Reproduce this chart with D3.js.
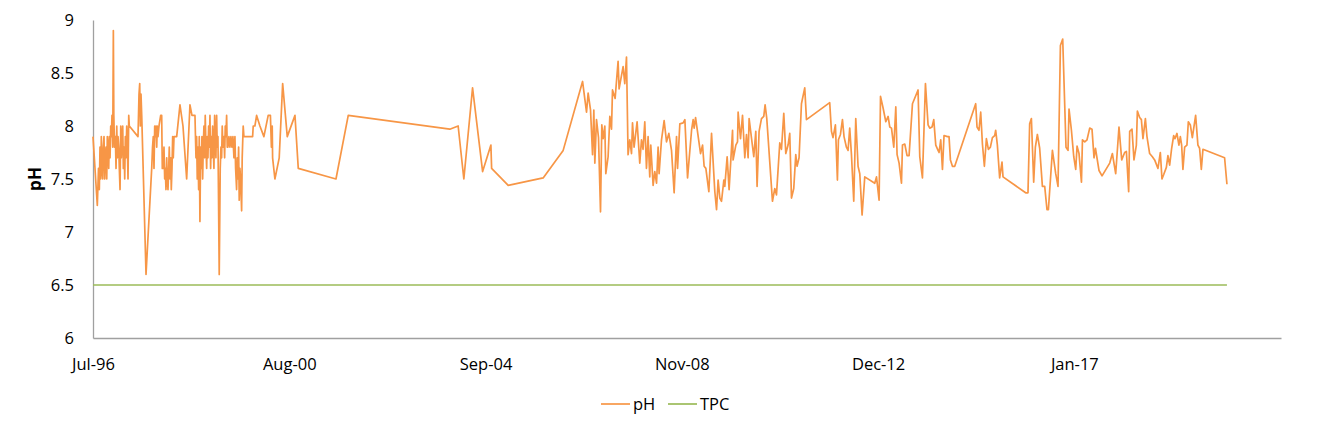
<!DOCTYPE html>
<html>
<head>
<meta charset="utf-8">
<script src="https://cdn.jsdelivr.net/npm/d3@7"></script>
<style>
	body { margin: 0; background: #fff; }
	text { font-family: "Open Sans", "Liberation Sans", sans-serif; fill: #000; }
	.axis path { stroke: #a0a0a0; stroke-width: 1.3px; }
	.axis text { font-size: 16.5px; }
</style>
</head>
<body>
<div id="chart"></div>
<script>
// sample dates as decimal years, pH
var ph_years = [
	1996.520, 1996.610, 1996.635, 1996.652, 1996.666, 1996.681, 1996.694, 1996.708, 1996.723, 1996.735,
	1996.750, 1996.765, 1996.777, 1996.792, 1996.807, 1996.819, 1996.834, 1996.848, 1996.861, 1996.876,
	1996.890, 1996.903, 1996.917, 1996.932, 1996.945, 1996.955, 1996.970, 1996.987, 1997.001, 1997.016,
	1997.028, 1997.043, 1997.058, 1997.070, 1997.085, 1997.100, 1997.112, 1997.127, 1997.141, 1997.154,
	1997.169, 1997.183, 1997.196, 1997.210, 1997.225, 1997.238, 1997.252, 1997.267, 1997.279, 1997.461,
	1997.482, 1997.497, 1997.510, 1997.524, 1997.539, 1997.629, 1997.748, 1997.765, 1997.781, 1997.796,
	1997.811, 1997.823, 1997.838, 1997.853, 1997.865, 1997.880, 1997.901, 1997.936, 1997.957, 1997.970,
	1997.991, 1998.005, 1998.020, 1998.033, 1998.047, 1998.062, 1998.074, 1998.089, 1998.104, 1998.116,
	1998.131, 1998.146, 1998.158, 1998.173, 1998.187, 1998.200, 1998.215, 1998.235, 1998.271, 1998.340,
	1998.403, 1998.480, 1998.549, 1998.591, 1998.654, 1998.675, 1998.689, 1998.702, 1998.717, 1998.731,
	1998.744, 1998.758, 1998.773, 1998.786, 1998.800, 1998.815, 1998.827, 1998.842, 1998.857, 1998.869,
	1998.884, 1998.899, 1998.911, 1998.926, 1998.940, 1998.953, 1998.968, 1998.982, 1998.995, 1999.009,
	1999.024, 1999.037, 1999.051, 1999.066, 1999.079, 1999.093, 1999.108, 1999.120, 1999.135, 1999.162,
	1999.183, 1999.198, 1999.212, 1999.225, 1999.240, 1999.261, 1999.275, 1999.288, 1999.302, 1999.317,
	1999.330, 1999.344, 1999.365, 1999.386, 1999.407, 1999.428, 1999.449, 1999.470, 1999.491, 1999.505,
	1999.526, 1999.539, 1999.553, 1999.568, 1999.581, 1999.595, 1999.610, 1999.631, 1999.643, 1999.664,
	1999.679, 1999.700, 1999.763, 1999.825, 1999.861, 1999.874, 1999.909, 1999.945, 2000.014, 2000.097,
	2000.187, 2000.233, 2000.254, 2000.271, 2000.279, 2000.327, 2000.417, 2000.489, 2000.585, 2000.746,
	2000.815, 2001.604, 2001.861, 2003.988, 2004.162, 2004.281, 2004.463, 2004.673, 2004.846, 2004.861,
	2005.208, 2005.940, 2006.359, 2006.765, 2006.848, 2006.882, 2006.932, 2006.974, 2007.001, 2007.022,
	2007.057, 2007.099, 2007.141, 2007.168, 2007.196, 2007.231, 2007.252, 2007.300, 2007.336, 2007.371,
	2007.392, 2007.447, 2007.509, 2007.530, 2007.614, 2007.649, 2007.685, 2007.718, 2007.754, 2007.790,
	2007.811, 2007.844, 2007.907, 2007.963, 2007.999, 2008.032, 2008.068, 2008.103, 2008.137, 2008.172,
	2008.193, 2008.242, 2008.277, 2008.313, 2008.346, 2008.367, 2008.417, 2008.472, 2008.522, 2008.570,
	2008.626, 2008.681, 2008.731, 2008.752, 2008.800, 2008.869, 2008.905, 2008.961, 2009.045, 2009.078,
	2009.099, 2009.129, 2009.233, 2009.275, 2009.308, 2009.344, 2009.407, 2009.463, 2009.532, 2009.568,
	2009.601, 2009.637, 2009.672, 2009.721, 2009.741, 2009.790, 2009.831, 2009.903, 2009.915, 2009.972,
	2010.007, 2010.020, 2010.070, 2010.112, 2010.160, 2010.195, 2010.229, 2010.250, 2010.348, 2010.390,
	2010.417, 2010.459, 2010.509, 2010.557, 2010.585, 2010.620, 2010.739, 2010.787, 2010.823, 2010.892,
	2010.928, 2010.976, 2011.018, 2011.066, 2011.101, 2011.137, 2011.185, 2011.227, 2011.254, 2011.296,
	2011.346, 2011.415, 2011.451, 2011.938, 2011.974, 2012.007, 2012.057, 2012.099, 2012.120, 2012.162,
	2012.204, 2012.237, 2012.287, 2012.321, 2012.356, 2012.392, 2012.440, 2012.482, 2012.530, 2012.566,
	2012.614, 2012.670, 2012.879, 2012.915, 2012.969, 2012.999, 2013.053, 2013.110, 2013.158, 2013.193,
	2013.229, 2013.277, 2013.319, 2013.346, 2013.388, 2013.438, 2013.459, 2013.507, 2013.555, 2013.597,
	2013.668, 2013.785, 2013.821, 2013.877, 2013.940, 2013.995, 2014.030, 2014.078, 2014.114, 2014.156,
	2014.204, 2014.225, 2014.260, 2014.296, 2014.329, 2014.400, 2014.434, 2014.463, 2014.505, 2014.553,
	2014.992, 2015.020, 2015.061, 2015.097, 2015.133, 2015.174, 2015.216, 2015.258, 2015.300, 2015.342,
	2015.390, 2015.411, 2015.446, 2015.494, 2015.543, 2015.564, 2016.038, 2016.087, 2016.122, 2016.158,
	2016.206, 2016.241, 2016.283, 2016.331, 2016.388, 2016.436, 2016.484, 2016.513, 2016.597, 2016.666,
	2016.714, 2016.764, 2016.812, 2016.881, 2016.923, 2016.944, 2016.994, 2017.043, 2017.084, 2017.112,
	2017.153, 2017.204, 2017.225, 2017.273, 2017.321, 2017.377, 2017.425, 2017.467, 2017.497, 2017.572,
	2017.635, 2017.796, 2017.852, 2017.921, 2017.990, 2018.047, 2018.109, 2018.145, 2018.193, 2018.214,
	2018.262, 2018.304, 2018.354, 2018.375, 2018.423, 2018.459, 2018.492, 2018.543, 2018.576, 2018.632,
	2018.689, 2018.737, 2018.806, 2018.856, 2018.890, 2018.925, 2018.982, 2019.015, 2019.051, 2019.093,
	2019.135, 2019.162, 2019.204, 2019.245, 2019.275, 2019.302, 2019.329, 2019.365, 2019.413, 2019.442,
	2019.484, 2019.526, 2019.595, 2019.643, 2019.678, 2019.714, 2019.748, 2020.201, 2020.250
];

var ph_values = [
	7.9, 7.25, 7.6, 7.4, 7.8, 7.5, 7.9, 7.6, 7.5, 7.8,
	7.9, 7.5, 7.7, 7.8, 7.5, 7.9, 7.8, 7.6, 7.9, 7.7,
	8.0, 7.9, 8.1, 7.8, 8.9, 8.1, 7.8, 7.9, 7.6, 8.0,
	7.7, 7.9, 7.8, 7.6, 7.4, 8.0, 7.7, 7.9, 8.0, 7.6,
	7.8, 7.5, 7.9, 7.7, 8.0, 7.8, 7.5, 8.1, 8.0, 7.9,
	8.3, 8.4, 8.0, 8.3, 8.1, 6.6, 7.6, 7.8, 7.9, 7.6,
	8.0, 7.9, 8.0, 7.8, 8.0, 7.9, 8.0, 8.1, 8.1, 7.6,
	7.6, 7.8, 7.5, 7.6, 7.4, 7.7, 7.5, 7.4, 7.6, 7.8,
	7.5, 7.7, 7.4, 7.6, 7.9, 7.7, 7.9, 7.9, 7.9, 8.2,
	8.0, 7.5, 8.2, 8.1, 8.1, 7.7, 7.9, 7.5, 7.8, 7.4,
	7.9, 7.1, 7.8, 7.6, 7.9, 7.5, 7.8, 8.0, 7.7, 8.1,
	7.8, 7.6, 7.9, 7.7, 8.0, 7.8, 8.1, 7.6, 7.9, 7.7,
	8.0, 7.8, 7.6, 8.1, 7.9, 7.7, 8.1, 7.8, 7.9, 6.6,
	7.6, 7.8, 7.7, 8.0, 7.8, 7.9, 7.7, 8.0, 7.9, 8.1,
	7.8, 7.8, 7.9, 7.8, 7.9, 7.8, 7.9, 7.7, 7.9, 7.6,
	7.4, 7.7, 7.5, 7.8, 7.3, 7.6, 7.5, 7.2, 7.7, 8.0,
	7.9, 7.9, 7.9, 7.9, 7.9, 8.0, 8.0, 8.1, 8.0, 7.9,
	8.1, 8.1, 7.8, 8.0, 7.7, 7.5, 7.7, 8.4, 7.9, 8.1,
	7.6, 7.5, 8.1, 7.97, 8.0, 7.5, 8.36, 7.57, 7.82, 7.6,
	7.44, 7.51, 7.77, 8.42, 8.13, 8.31, 8.15, 7.73, 8.15, 7.65,
	8.06, 7.89, 7.19, 8.01, 7.88, 8.0, 7.55, 7.71, 8.09, 7.97,
	8.34, 8.26, 8.61, 8.35, 8.56, 8.40, 8.65, 7.73, 7.87, 7.74,
	8.03, 7.80, 8.04, 7.65, 7.87, 7.78, 8.04, 7.60, 7.90, 7.52,
	7.82, 7.44, 7.57, 7.46, 7.80, 7.55, 7.87, 8.05, 7.85, 7.93,
	7.77, 7.37, 7.90, 7.60, 8.02, 8.03, 8.06, 7.51, 7.96, 8.06,
	7.98, 8.08, 7.74, 7.82, 7.62, 7.60, 7.38, 7.93, 7.38, 7.21,
	7.49, 7.32, 7.29, 7.49, 7.43, 7.71, 7.40, 7.96, 7.68, 7.82,
	7.85, 8.13, 7.88, 8.10, 7.70, 7.92, 7.70, 8.07, 7.71, 7.95,
	7.43, 7.95, 8.07, 8.09, 8.20, 8.07, 7.29, 7.41, 7.35, 7.84,
	7.78, 8.12, 7.74, 7.82, 7.93, 7.32, 7.41, 7.73, 7.62, 7.70,
	8.21, 8.36, 8.06, 8.22, 7.95, 7.89, 8.01, 7.49, 7.87, 7.92,
	8.06, 7.90, 7.80, 7.77, 7.98, 7.73, 7.29, 8.07, 7.62, 7.55,
	7.16, 7.52, 7.46, 7.52, 7.30, 8.28, 8.17, 8.04, 8.09, 7.99,
	7.98, 7.80, 8.18, 7.73, 7.65, 7.46, 7.82, 7.83, 7.72, 7.72,
	8.21, 8.34, 7.71, 7.51, 8.40, 8.01, 7.98, 7.99, 8.06, 7.82,
	7.77, 7.75, 7.87, 7.59, 7.91, 7.90, 7.90, 7.68, 7.62, 7.62,
	8.21, 7.99, 7.96, 8.13, 7.83, 7.62, 7.88, 7.78, 7.80, 7.89,
	7.91, 7.96, 7.82, 7.51, 7.66, 7.52, 7.37, 7.37, 8.02, 8.07,
	7.47, 7.80, 7.92, 7.79, 7.43, 7.43, 7.21, 7.21, 7.77, 7.55,
	7.43, 8.76, 8.82, 7.80, 7.77, 8.16, 7.96, 7.71, 7.59, 7.81,
	7.74, 7.47, 7.87, 7.85, 7.87, 7.98, 7.97, 7.70, 7.79, 7.58,
	7.53, 7.65, 7.74, 7.55, 7.99, 7.68, 7.75, 7.76, 7.38, 7.95,
	7.97, 7.68, 7.82, 8.14, 8.08, 8.06, 7.88, 8.07, 7.90, 7.74,
	7.71, 7.68, 7.60, 7.75, 7.50, 7.54, 7.61, 7.72, 7.63, 7.79,
	7.91, 7.88, 7.93, 7.82, 7.90, 7.82, 7.59, 7.80, 7.82, 8.04,
	8.01, 7.89, 8.10, 7.82, 7.79, 7.59, 7.78, 7.70, 7.45
];

var tpc_value = 6.5;

// axis set-up as in the original sheet: ticks every 1500 days from the first sample
var x_domain = [1996.52, 2021.38];
var x_tick_years = [1996.52, 2000.627, 2004.734, 2008.841, 2012.948, 2017.055];
var y_domain = [6, 9];
var y_ticks = [6, 6.5, 7, 7.5, 8, 8.5, 9];

var series_names = ["pH", "TPC"];
var series_colors = ["#f79646", "#9bbb59"];

function year_to_date(y) {
	var yr = Math.floor(y);
	var t0 = new Date(yr, 0, 1).getTime();
	var t1 = new Date(yr + 1, 0, 1).getTime();
	return new Date(t0 + (y - yr) * (t1 - t0));
}

function ph_chart(margin, width, height, tag) {
	this.margin = margin;
	this.width = width - margin.left - margin.right;
	this.height = height - margin.top - margin.bottom;

	this.svg = d3.select(tag)
				.append("svg")
				.attr("width", width)
				.attr("height", height);

	this.panel = this.svg.append("g")
				.attr("transform", "translate(" + margin.left + ", " + margin.top + ")");

	this.x = d3.scaleTime()
				.domain(x_domain.map(year_to_date))
				.range([0, this.width]);
	this.y = d3.scaleLinear()
				.domain(y_domain)
				.range([this.height, 0]);
}

ph_chart.prototype = {
	draw : function() {
		var self = this;
		var fmt = d3.timeFormat("%b-%y");

		var ph_data = ph_years.map(function(d, i) {
			return {date : year_to_date(d), value : ph_values[i]};
		});
		var tpc_data = ph_data.map(function(d) {
			return {date : d.date, value : tpc_value};
		});

		self.panel.append("g")
			.attr("class", "axis")
			.call(d3.axisLeft(self.y)
				.tickValues(y_ticks)
				.tickSize(0)
				.tickPadding(19)
				.tickFormat(d3.format("")));

		self.panel.append("g")
			.attr("class", "axis")
			.attr("transform", "translate(0, " + self.height + ")")
			.call(d3.axisBottom(self.x)
				.tickValues(x_tick_years.map(year_to_date))
				.tickSize(0)
				.tickPadding(20)
				.tickFormat(fmt));

		self.panel.append("text")
			.attr("transform", "translate(-58, " + self.y(7.5) + ") rotate(-90)")
			.attr("text-anchor", "middle")
			.attr("dy", "0.35em")
			.style("font-size", "17px")
			.style("font-weight", "bold")
			.text("pH");

		var line = d3.line()
			.x(function(d) { return self.x(d.date); })
			.y(function(d) { return self.y(d.value); });

		self.panel.append("path")
			.datum(tpc_data)
			.attr("fill", "none")
			.attr("stroke", series_colors[1])
			.attr("stroke-width", 1.7)
			.attr("d", line);

		self.panel.append("path")
			.datum(ph_data)
			.attr("fill", "none")
			.attr("stroke", series_colors[0])
			.attr("stroke-width", 1.7)
			.attr("stroke-linejoin", "round")
			.attr("d", line);

		// legend under the plot
		var legend = self.svg.append("g")
			.attr("transform", "translate(601, 404)");
		var offsets = [0, 67];
		series_names.forEach(function(name, i) {
			var g = legend.append("g")
				.attr("transform", "translate(" + offsets[i] + ", 0)");
			g.append("line")
				.attr("x1", 0).attr("x2", 29)
				.attr("y1", 0).attr("y2", 0)
				.attr("stroke", series_colors[i])
				.attr("stroke-width", 1.7);
			g.append("text")
				.attr("x", 32)
				.attr("dy", "0.35em")
				.style("font-size", "16.5px")
				.text(name);
		});
	}
};

var chart = new ph_chart({top : 20, right : 46, bottom : 89, left : 93}, 1327, 427, "#chart");
chart.draw();
</script>
</body>
</html>
